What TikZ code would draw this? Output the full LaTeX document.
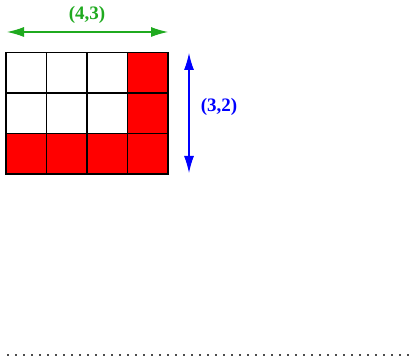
\documentclass[tikz,border=0pt]{standalone}
\usepackage{fontspec}
\setmainfont{Liberation Serif}
\usetikzlibrary{arrows.meta}
\definecolor{dimgreen}{HTML}{1FAA1F}
\tikzstyle{cell} = [minimum size=40.5pt, inner sep=0pt, outer sep=0pt]
\tikzstyle{gridline} = [draw=black, line width=1.1pt]
\tikzstyle{dimarrow} = [line width=1.1pt, {Latex[length=17pt,width=10pt]}-{Latex[length=17pt,width=10pt]}]
\tikzstyle{dimlabel} = [font=\fontsize{19}{20}\selectfont\bfseries]

\begin{document}
\begin{tikzpicture}[x=1pt,y=-1pt]
    \useasboundingbox (0,0) rectangle (410,358);
    % grid of cells, right column and bottom row filled
    \foreach \c in {1,...,4}
      \foreach \r in {1,...,3}{
        \pgfmathsetmacro{\fillc}{(\c==4 || \r==3) ? "red" : "white"}
        \node[cell,fill=\fillc] (cell-\r-\c) at ({6+40.5*(\c-0.5)},{52.5+40.5*(\r-0.5)}) {};
      }
    \foreach \c in {1,...,4}
      \foreach \r in {1,...,3}
        \draw[gridline] (cell-\r-\c.north west) rectangle (cell-\r-\c.south east);
    % horizontal extent
    \coordinate (gl) at (7,32);
    \coordinate (gr) at (168,32);
    \draw[dimarrow,dimgreen] (gl) -- (gr);
    \node[dimlabel,text=dimgreen] (lab43) at (87,15) {(4,3)};
    % vertical extent
    \coordinate (bt) at (189,53);
    \coordinate (bb) at (189,173);
    \draw[dimarrow,blue] (bt) -- (bb);
    \node[dimlabel,text=blue] (lab32) at (219,107) {(3,2)};
    % dotted baseline
    \coordinate (dl) at (7,355);
    \coordinate (dr) at (410,355);
    \draw[black!70, line width=1.2pt, dash pattern=on 1.8pt off 6.2pt] (dl) -- (dr);
\end{tikzpicture}
\end{document}
